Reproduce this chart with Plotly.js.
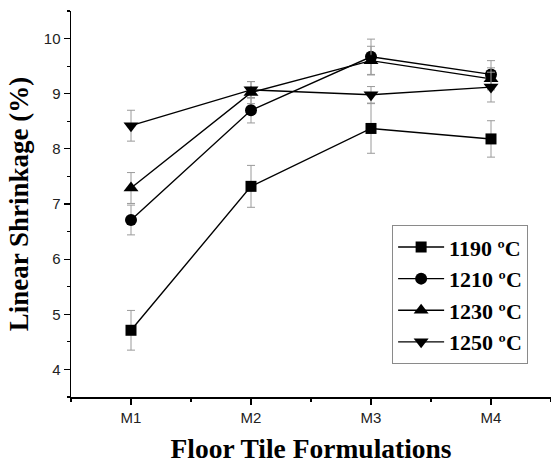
<!DOCTYPE html>
<html>
<head>
<meta charset="utf-8">
<script src="https://cdn.plot.ly/plotly-3.0.1.min.js"></script>
<style>html,body{margin:0;padding:0;background:#fff;}#chart{width:551px;height:464px;}</style>
</head>
<body>
<div id="chart"></div>
<script>
// Data
const categories = ['M1', 'M2', 'M3', 'M4'];
const xPositions = [1, 2, 3, 4];
const seriesNames = ['1190 ºC', '1210 ºC', '1230 ºC', '1250 ºC'];
const shrink1190 = [4.71, 7.32, 8.37, 8.18];
const shrink1210 = [6.71, 8.70, 9.67, 9.35];
const shrink1230 = [7.29, 9.02, 9.60, 9.27];
const shrink1250 = [8.42, 9.07, 8.98, 9.12];
const err1190 = [0.36, 0.38, 0.45, 0.33];
const err1210 = [0.27, 0.23, 0.32, 0.25];
const err1230 = [0.28, 0.20, 0.26, 0.20];
const err1250 = [0.28, 0.15, 0.15, 0.27];
const yTickVals = [4, 5, 6, 7, 8, 9, 10];

const values = [shrink1190, shrink1210, shrink1230, shrink1250];
const errors = [err1190, err1210, err1230, err1250];
const symbols = ['square', 'circle', 'triangle-up', 'triangle-down'];
const sizes = [11, 12, 13, 13];

const traces = values.map((v, i) => ({
  type: 'scatter',
  mode: 'lines+markers',
  name: seriesNames[i],
  x: xPositions,
  y: v,
  line: {color: '#000', width: 1.4},
  marker: {symbol: symbols[i], size: sizes[i], color: '#000'},
  error_y: {type: 'data', array: errors[i], visible: true, color: '#9a9a9a', thickness: 1, width: 4},
  cliponaxis: false
}));

const layout = {
  width: 551, height: 464,
  margin: {l: 71, r: 0, t: 11, b: 67, pad: 0},
  paper_bgcolor: '#fff', plot_bgcolor: '#fff',
  showlegend: true,
  legend: {
    x: 0.669, y: 0.445, xanchor: 'left', yanchor: 'top',
    bordercolor: '#8a8a8a', borderwidth: 1, bgcolor: '#fff',
    font: {family: 'Liberation Serif', size: 22, color: '#000', weight: 'bold'},
    tracegroupgap: 0, itemwidth: 46
  },
  xaxis: {
    range: [0.5, 4.5],
    tickvals: xPositions, ticktext: categories,
    showgrid: false, zeroline: false,
    showline: true, linecolor: '#000', linewidth: 1.5,
    ticks: 'outside', ticklen: 6, tickwidth: 1.2, tickcolor: '#000',
    minor: {tick0: 0.5, dtick: 1, ticks: 'outside', ticklen: 3, tickwidth: 1.2, tickcolor: '#000', showgrid: false},
    tickfont: {family: 'Liberation Sans', size: 15, color: '#222'},
    title: {text: '<b>Floor Tile Formulations</b>', font: {family: 'Liberation Serif', size: 27.5, color: '#000'}, standoff: 15}
  },
  yaxis: {
    range: [3.5, 10.5],
    tickvals: yTickVals,
    showgrid: false, zeroline: false,
    showline: true, linecolor: '#000', linewidth: 1.5,
    ticks: 'outside', ticklen: 6, tickwidth: 1.2, tickcolor: '#000',
    minor: {tick0: 3.5, dtick: 1, ticks: 'outside', ticklen: 3, tickwidth: 1.2, tickcolor: '#000', showgrid: false},
    tickfont: {family: 'Liberation Sans', size: 15, color: '#222'},
    title: {text: '<b>Linear Shrinkage (%)</b>', font: {family: 'Liberation Serif', size: 27, color: '#000'}, standoff: 7}
  }
};

Plotly.newPlot('chart', traces, layout, {displayModeBar: false, staticPlot: true});
</script>
</body>
</html>
